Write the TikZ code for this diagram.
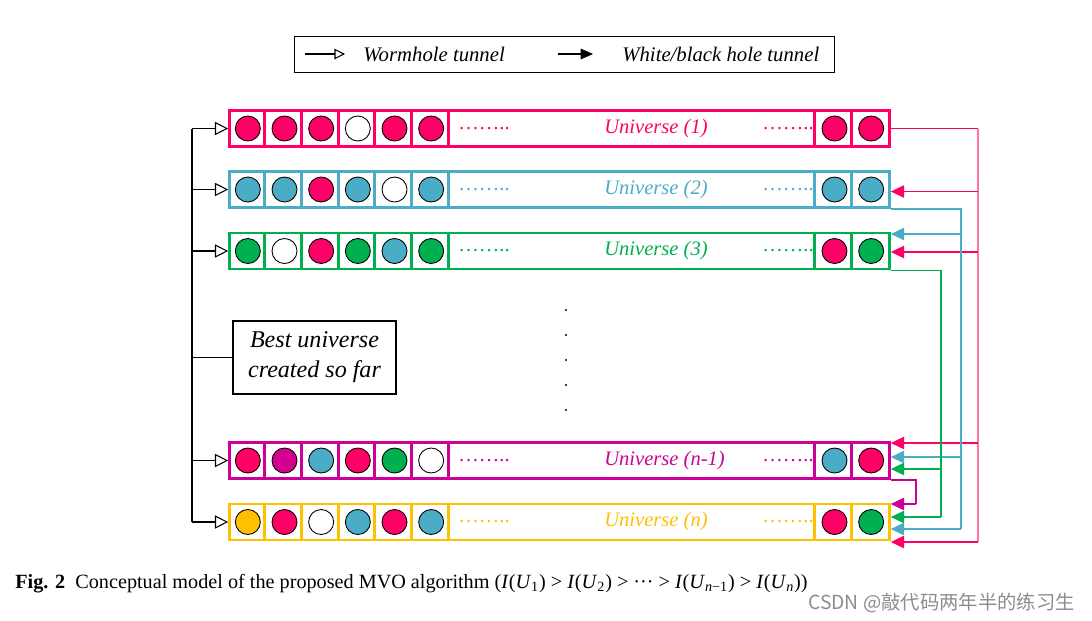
\documentclass[tikz,border=0pt]{standalone}
\usepackage{fontspec}
\setmainfont{Liberation Serif}
\newfontfamily\cjkfont{Noto Sans CJK SC}
\usetikzlibrary{arrows.meta, calc, positioning}

\definecolor{uRed}{HTML}{FF0066}
\definecolor{uBlue}{HTML}{4BACC6}
\definecolor{uGreen}{HTML}{00B050}
\definecolor{uMag}{HTML}{CC0099}
\definecolor{uMagBall}{HTML}{D4008F}
\definecolor{uYel}{HTML}{FFC000}

\tikzset{
  ubox/.style={draw, line width=1.6pt, minimum width=13.2cm, minimum height=0.72cm, inner sep=0pt},
  ball/.style={circle, draw=black, line width=0.5pt, minimum size=0.5cm, inner sep=0pt},
  ulabel/.style={anchor=west, inner sep=0pt, font=\fontsize{11.7}{14}\selectfont\itshape},
  udots/.style={anchor=west, inner sep=0pt, font=\fontsize{11.7}{14}\selectfont},
  wormhole/.style={-{Triangle[open, length=7.5pt, width=7.5pt]}, line width=0.6pt},
  tunnel/.style={line width=0.75pt},
  hole/.style={-{Triangle[length=7.5pt, width=7pt]}, line width=0.75pt},
}

\begin{document}
\begin{tikzpicture}[x=0.02cm, y=-0.02cm]
    \useasboundingbox (0,0) rectangle (1092,620);

    % Legend
    \node[draw, line width=0.6pt, minimum width=10.8cm, minimum height=0.72cm] (legend) at (564.5,54.5) {};
    \coordinate (w0) at (305,54);
    \coordinate (w1) at (345,54);
    \coordinate (h0) at (558,54);
    \coordinate (h1) at (593,54);
    \draw[-{Triangle[open, length=6pt, width=6pt]}, line width=0.6pt] (w0) -- (w1);
    \draw[-{Triangle[length=7pt, width=6pt]}, line width=0.6pt] (h0) -- (h1);
    \node[anchor=west, inner sep=0pt, font=\fontsize{11.8}{14}\selectfont\itshape] (wtext) at (363,54) {Wormhole tunnel};
    \node[anchor=west, inner sep=0pt, font=\fontsize{11.8}{14}\selectfont\itshape] (htext) at (622,54) {White/black hole tunnel};

    % Universe (1)
    \node[ubox, draw=uRed] (u1) at (559.5,128.5) {};
    \foreach \k in {1,...,6,16,17}
        \draw[uRed, line width=1.6pt] ($(u1.north west)+(36.667*\k,0)$) -- ($(u1.south west)+(36.667*\k,0)$);
    \foreach \c/\k in {uRed/1,uRed/2,uRed/3,white/4,uRed/5,uRed/6,uRed/17,uRed/18}
        \node[ball, fill=\c] at (211.17+36.667*\k,128.5) {};
    \node[udots, text=uRed] at (458,128.5) {……..};
    \node[udots, text=uRed] at (762,128.5) {……..};
    \node[ulabel, text=uRed] (l1) at (604,128.5) {Universe (1)};

    % Universe (2)
    \node[ubox, draw=uBlue] (u2) at (559.5,189.5) {};
    \foreach \k in {1,...,6,16,17}
        \draw[uBlue, line width=1.6pt] ($(u2.north west)+(36.667*\k,0)$) -- ($(u2.south west)+(36.667*\k,0)$);
    \foreach \c/\k in {uBlue/1,uBlue/2,uRed/3,uBlue/4,white/5,uBlue/6,uBlue/17,uBlue/18}
        \node[ball, fill=\c] at (211.17+36.667*\k,189.5) {};
    \node[udots, text=uBlue] at (458,189.5) {……..};
    \node[udots, text=uBlue] at (762,189.5) {……..};
    \node[ulabel, text=uBlue] (l2) at (604,189.5) {Universe (2)};

    % Universe (3)
    \node[ubox, draw=uGreen] (u3) at (559.5,251) {};
    \foreach \k in {1,...,6,16,17}
        \draw[uGreen, line width=1.6pt] ($(u3.north west)+(36.667*\k,0)$) -- ($(u3.south west)+(36.667*\k,0)$);
    \foreach \c/\k in {uGreen/1,white/2,uRed/3,uGreen/4,uBlue/5,uGreen/6,uRed/17,uGreen/18}
        \node[ball, fill=\c] at (211.17+36.667*\k,251) {};
    \node[udots, text=uGreen] at (458,251) {……..};
    \node[udots, text=uGreen] at (762,251) {……..};
    \node[ulabel, text=uGreen] (l3) at (604,251) {Universe (3)};

    % vertical dots
    \foreach \y in {310,335,360,385,410}
        \fill (566,\y) circle (1.2);

    % Universe (n-1)
    \node[ubox, draw=uMag] (un1) at (559.5,460.5) {};
    \foreach \k in {1,...,6,16,17}
        \draw[uMag, line width=1.6pt] ($(un1.north west)+(36.667*\k,0)$) -- ($(un1.south west)+(36.667*\k,0)$);
    \foreach \c/\k in {uRed/1,uMagBall/2,uBlue/3,uRed/4,uGreen/5,white/6,uBlue/17,uRed/18}
        \node[ball, fill=\c] at (211.17+36.667*\k,460.5) {};
    \node[udots, text=uMag] at (458,460.5) {……..};
    \node[udots, text=uMag] at (762,460.5) {……..};
    \node[ulabel, text=uMag] (ln1) at (604,460.5) {Universe (n-1)};

    % Universe (n)
    \node[ubox, draw=uYel] (un) at (559.5,522) {};
    \foreach \k in {1,...,6,16,17}
        \draw[uYel, line width=1.6pt] ($(un.north west)+(36.667*\k,0)$) -- ($(un.south west)+(36.667*\k,0)$);
    \foreach \c/\k in {uYel/1,uRed/2,white/3,uBlue/4,uRed/5,uBlue/6,uRed/17,uGreen/18}
        \node[ball, fill=\c] at (211.17+36.667*\k,522) {};
    \node[udots, text=uYel] at (458,522) {……..};
    \node[udots, text=uYel] at (762,522) {……..};
    \node[ulabel, text=uYel] (ln) at (604,522) {Universe (n)};

    % Best universe
    \node[draw, line width=0.6pt, minimum width=3.26cm, minimum height=1.46cm, align=center,
          font=\fontsize{13.7}{17}\selectfont\itshape] (best) at (314.5,357.5) {Best universe\\created so far};

    % Wormhole tunnels
    \coordinate (bus) at (192,128.5);
    \draw[line width=0.6pt] (bus) -- (bus |- un.west);
    \draw[line width=0.6pt] (bus |- best.west) -- (best.west);
    \foreach \u in {u1,u2,u3,un1,un}
        \draw[wormhole] (bus |- \u.west) -- (\u.west);

    % White/black hole tunnels
    \coordinate (redbus) at ($(u1.east)+(87,0)$);
    \draw[tunnel, uRed] (u1.east) -- (redbus);
    \draw[tunnel, uRed!55] (redbus) -- ($(un.east)+(87,20)$);
    \draw[hole, uRed] ($(u2.east)+(87,2)$) -- ($(u2.east)+(0,2)$);
    \draw[hole, uRed] ($(u3.east)+(87,1)$) -- ($(u3.east)+(0,1)$);
    \draw[hole, uRed] ($(un1.east)+(87,-17.5)$) -- ($(un1.east)+(0,-17.5)$);
    \draw[hole, uRed] ($(un.east)+(87,20)$) -- ($(un.east)+(0,20)$);

    \draw[tunnel, uBlue] (u2.south east) -| ($(un.east)+(70,7)$);
    \draw[hole, uBlue] ($(u3.east)+(70,-17)$) -- ($(u3.east)+(0,-17)$);
    \draw[hole, uBlue] ($(un1.east)+(70,-3.5)$) -- ($(un1.east)+(0,-3.5)$);
    \draw[hole, uBlue] ($(un.east)+(70,7)$) -- ($(un.east)+(0,7)$);

    \draw[tunnel, uGreen] (u3.south east) -| ($(un.east)+(50,-5)$);
    \draw[hole, uGreen] ($(un1.east)+(50,8.5)$) -- ($(un1.east)+(0,8.5)$);
    \draw[hole, uGreen] ($(un.east)+(50,-5)$) -- ($(un.east)+(0,-5)$);

    \draw[tunnel, uMag] (un1.south east) -| ($(un.east)+(25,-18)$);
    \draw[hole, uMag] ($(un.east)+(25,-18)$) -- ($(un.east)+(0,-18)$);

    % Caption
    \node[anchor=base west, inner sep=0pt, font=\fontsize{11.5}{13}\selectfont] (caption) at (15,588)
        {\textbf{Fig. 2}\hspace{0.5em}Conceptual model of the proposed MVO algorithm (\textit{I}(\textit{U}\textsubscript{1})~>~\textit{I}(\textit{U}\textsubscript{2})~>~···~>~\textit{I}(\textit{U}\textsubscript{\textit{n}−1})~>~\textit{I}(\textit{U}\textsubscript{\textit{n}}))};
    \node[anchor=base east, inner sep=0pt, text=black!45, font=\cjkfont\fontsize{11}{13}\selectfont] (mark) at (1075,609) {CSDN @敲代码两年半的练习生};
\end{tikzpicture}
\end{document}
